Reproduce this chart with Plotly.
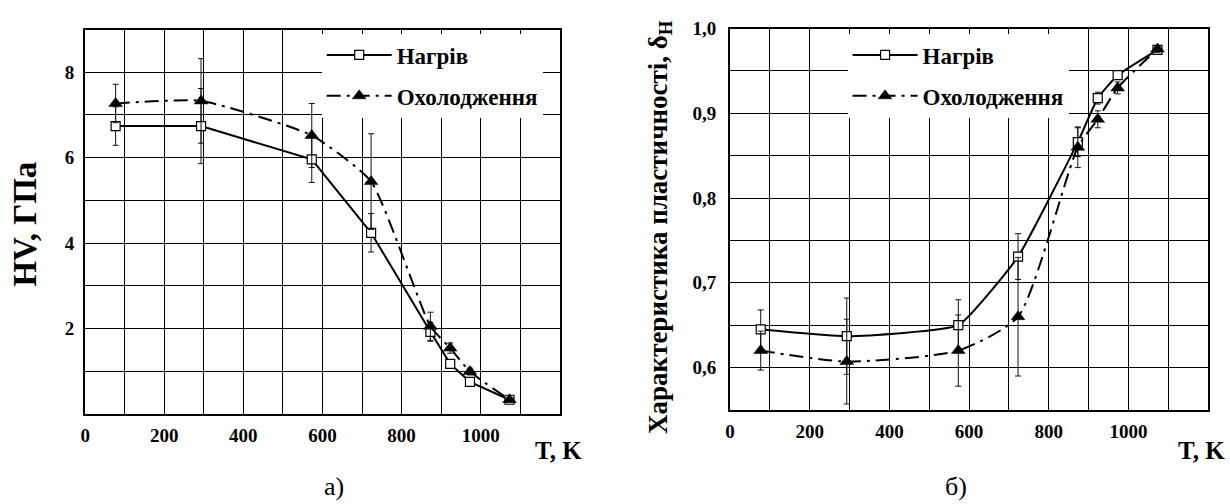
import plotly.graph_objects as go

# ---------------- data ----------------
T = [77, 293, 573, 723, 873, 923, 973, 1073]

hv_heat = [6.74, 6.74, 5.96, 4.24, 1.92, 1.17, 0.75, 0.33]
hv_heat_err = [0.45, 0.88, 0.54, 0.45, 0.22, 0.08, 0.08, 0.05]
hv_cool = [7.27, 7.33, 6.52, 5.44, 2.05, 1.54, 0.99, 0.33]
hv_cool_err = [0.45, 0.99, 0.75, 1.12, 0.33, 0.12, 0.08, 0.05]

d_heat = [0.645, 0.637, 0.650, 0.731, 0.866, 0.918, 0.945, 0.975]
d_heat_err = [0.023, 0.045, 0.030, 0.027, 0.017, 0.007, 0.005, 0.004]
d_cool = [0.620, 0.607, 0.620, 0.660, 0.860, 0.893, 0.930, 0.976]
d_cool_err = [0.023, 0.050, 0.042, 0.070, 0.024, 0.010, 0.007, 0.004]

x_tickvals = [0, 200, 400, 600, 800, 1000]
hv_tickvals = [2, 4, 6, 8]
d_tickvals = [0.6, 0.7, 0.8, 0.9, 1.0]
d_ticktext = ["0,6", "0,7", "0,8", "0,9", "1,0"]

name_heat = "Нагрів"
name_cool = "Охолодження"

# ---------------- styling ----------------
FONT = "Liberation Serif"
BLACK = "#000000"
DASHDOT = "14px,6px,3px,6px"

def err(arr):
    return dict(type="data", array=arr, visible=True, color="#111111",
                thickness=1, width=3)

heat_marker = dict(symbol="square", size=9, color="white",
                   line=dict(color=BLACK, width=1.2))
cool_marker = dict(symbol="triangle-up", size=12, color=BLACK,
                   line=dict(color=BLACK, width=0.5))

fig = go.Figure()

# left panel
fig.add_trace(go.Scatter(x=T, y=hv_heat, error_y=err(hv_heat_err), mode="lines+markers",
                         name=name_heat, line=dict(color=BLACK, width=2),
                         marker=heat_marker, xaxis="x", yaxis="y",
                         legend="legend", legendgroup="h1"))
fig.add_trace(go.Scatter(x=T, y=hv_cool, error_y=err(hv_cool_err), mode="lines+markers",
                         name=name_cool,
                         line=dict(color=BLACK, width=2, dash=DASHDOT, shape="spline", smoothing=0.5),
                         marker=cool_marker, xaxis="x", yaxis="y",
                         legend="legend", legendgroup="c1"))
# right panel
fig.add_trace(go.Scatter(x=T, y=d_heat, error_y=err(d_heat_err), mode="lines+markers",
                         name=name_heat,
                         line=dict(color=BLACK, width=2, shape="spline", smoothing=0.4),
                         marker=heat_marker, xaxis="x2", yaxis="y2",
                         legend="legend2", legendgroup="h2"))
fig.add_trace(go.Scatter(x=T, y=d_cool, error_y=err(d_cool_err), mode="lines+markers",
                         name=name_cool,
                         line=dict(color=BLACK, width=2, dash=DASHDOT, shape="spline", smoothing=0.6),
                         marker=cool_marker, xaxis="x2", yaxis="y2",
                         legend="legend2", legendgroup="c2"))

W, H = 1230, 504
def px(x):
    return x / W
def py(y):
    return 1 - y / H

tickfont = dict(family=FONT, size=19, color=BLACK, weight="bold")
common_axis = dict(showline=True, linecolor=BLACK, linewidth=2, mirror=True,
                   showgrid=True, gridcolor=BLACK, gridwidth=1, zeroline=False,
                   ticks="", tickfont=tickfont)

legend_common = dict(font=dict(family=FONT, size=23, color=BLACK, weight="bold"),
                     bgcolor="white", borderwidth=0, itemwidth=65,
                     traceorder="grouped", tracegroupgap=8,
                     xanchor="left", yanchor="top", itemclick=False)

fig.update_layout(
    width=W, height=H,
    margin=dict(l=0, r=0, t=0, b=0),
    paper_bgcolor="white", plot_bgcolor="white",
    font=dict(family=FONT, color=BLACK),
    xaxis=dict(domain=[px(80.5), px(557)], range=[0, 1200], tickvals=x_tickvals,
               minor=dict(tick0=0, dtick=100, showgrid=True, gridcolor=BLACK, gridwidth=1),
               anchor="y", ticklabelstandoff=3, **common_axis),
    yaxis=dict(domain=[py(412), py(20)], range=[0, 9], tickvals=hv_tickvals,
               minor=dict(tick0=0, dtick=1, showgrid=True, gridcolor=BLACK, gridwidth=1),
               anchor="x", ticklabelstandoff=5, **common_axis),
    xaxis2=dict(domain=[px(728), px(1208)], range=[0, 1200], tickvals=x_tickvals,
                minor=dict(tick0=0, dtick=100, showgrid=True, gridcolor=BLACK, gridwidth=1),
                anchor="y2", ticklabelstandoff=3, **common_axis),
    yaxis2=dict(domain=[py(408), py(19)], range=[0.55, 1.0], tickvals=d_tickvals,
                ticktext=d_ticktext,
                minor=dict(tick0=0, dtick=0.05, showgrid=True, gridcolor=BLACK, gridwidth=1),
                anchor="x2", ticklabelstandoff=8, **common_axis),
    legend=dict(x=px(318), y=py(24), **legend_common),
    legend2=dict(x=px(846), y=py(24), **legend_common),
    showlegend=True,
)

ann_bold = dict(family=FONT, color=BLACK, weight="bold")
def note(text, x, y, size, bold=True, angle=0, xanchor="center"):
    f = dict(size=size, **ann_bold) if bold else dict(size=size, family=FONT, color=BLACK)
    fig.add_annotation(text=text, x=px(x), y=py(y), xref="paper", yref="paper",
                       xanchor=xanchor, yanchor="middle", textangle=angle,
                       showarrow=False, font=f)

note("HV, ГПа", 20, 218, 33, angle=-90)
note("Характеристика пластичності, δ<sub>Н</sub>", 657, 221, 27, angle=-90)
note("T, K", 1227, 449, 25, xanchor="right")
note("T, K", 581, 449, 25, xanchor="right")
note("а)", 330, 486, 26, bold=False)
note("б)", 955, 486, 26, bold=False)

fig.write_html("out.html", config={"displayModeBar": False},
               post_script="document.body.style.margin='0px';")
